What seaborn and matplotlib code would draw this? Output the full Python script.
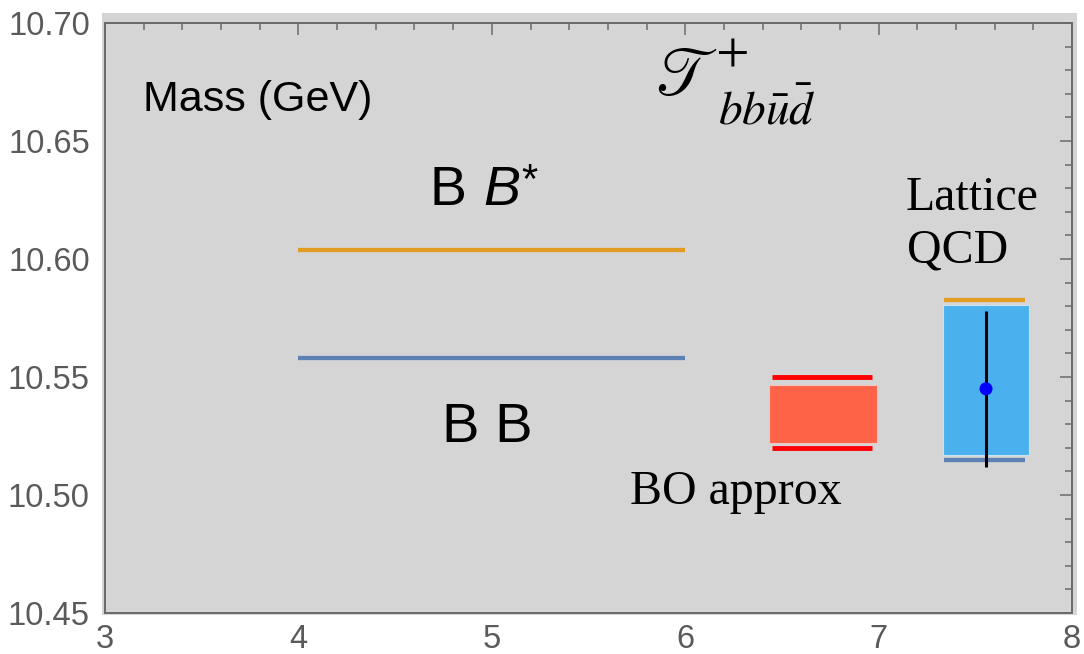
import matplotlib
matplotlib.use("Agg")
import matplotlib.pyplot as plt
import seaborn as sns
import pandas as pd
from matplotlib.patches import Rectangle
from matplotlib.ticker import MultipleLocator, FormatStrFormatter

# Two-meson thresholds (GeV), drawn between x = 4 and x = 6
threshold_names = ["B B", "B B*"]
threshold_mass = [10.558, 10.604]
threshold_x = [4.0, 6.0]

# Born-Oppenheimer estimate: band and its bounding lines
bo_band = [10.522, 10.5465]
bo_band_x = [6.435, 6.99]
bo_lines = [10.520, 10.550]
bo_lines_x = [6.45, 6.965]

# Lattice QCD: band, thresholds drawn on it, central value with error
lat_band = [10.517, 10.5805]
lat_band_x = [7.333, 7.778]
lat_lines = [10.5147, 10.5828]
lat_lines_x = [7.338, 7.757]
lat_x = [7.555]
lat_mass = [10.545]
lat_err = [0.033]

x_ticks = [3, 4, 5, 6, 7, 8]
y_ticks = [10.45, 10.50, 10.55, 10.60, 10.65, 10.70]

sns.set_theme(style="white")
plt.rcParams["font.family"] = ["Liberation Sans", "DejaVu Sans"]
plt.rcParams["mathtext.fontset"] = "stix"
plt.rcParams["text.color"] = "black"

ORANGE = "#E19C24"
BLUE = "#5E81B5"
RED = "#FF0000"
TOMATO = "#FF6347"
SKY = "#4AB1EE"
GRAY = "#6A6A6A"
PANEL = "#D5D5D5"
SERIF = ["Liberation Serif", "DejaVu Serif"]

fig = plt.figure(figsize=(10.84, 6.54), dpi=100)
# panel background slightly larger than the frame
fig.patches.append(Rectangle((0.0941, 0.0596), 0.8994, 0.9205,
                             transform=fig.transFigure, facecolor=PANEL,
                             edgecolor="none", zorder=-5))
ax = fig.add_axes([0.0969, 0.0627, 0.8921, 0.9021])
ax.set_zorder(1)
ax.set_facecolor(PANEL)

# threshold segments
thr = pd.DataFrame({
    "x": threshold_x * 2,
    "mass": [threshold_mass[0]] * 2 + [threshold_mass[1]] * 2,
    "state": [threshold_names[0]] * 2 + [threshold_names[1]] * 2,
})
sns.lineplot(data=thr, x="x", y="mass", hue="state",
             palette={threshold_names[0]: BLUE, threshold_names[1]: ORANGE},
             linewidth=3.1, legend=False, ax=ax)
for ln in ax.get_lines():
    ln.set_solid_capstyle("butt")

# BO band
ax.bar([(bo_band_x[0] + bo_band_x[1]) / 2], [bo_band[1] - bo_band[0]],
       width=bo_band_x[1] - bo_band_x[0], bottom=bo_band[0],
       color=TOMATO, edgecolor="#F2C6BE", linewidth=0.8, zorder=2)
for m in bo_lines:
    ax.plot(bo_lines_x, [m, m], color=RED, linewidth=3.5, zorder=3,
            solid_capstyle="butt")

# Lattice band
ax.bar([(lat_band_x[0] + lat_band_x[1]) / 2], [lat_band[1] - lat_band[0]],
       width=lat_band_x[1] - lat_band_x[0], bottom=lat_band[0],
       color=SKY, edgecolor="#C8E4F4", linewidth=0.8, zorder=2)
ax.plot(lat_lines_x, [lat_lines[1]] * 2, color=ORANGE, linewidth=3.1,
        zorder=3, solid_capstyle="butt")
ax.plot(lat_lines_x, [lat_lines[0]] * 2, color=BLUE, linewidth=3.1,
        zorder=3, solid_capstyle="butt")
ax.errorbar(lat_x, lat_mass, yerr=lat_err, fmt="none", ecolor="black",
            elinewidth=2.2, capsize=0, zorder=4)
sns.scatterplot(x=lat_x, y=lat_mass, color="#0000FF", s=88,
                edgecolor="none", zorder=5, ax=ax)

# frame, ticks
ax.set_xlim(3, 8)
ax.set_ylim(10.45, 10.70)
ax.set_xticks(x_ticks)
ax.set_yticks(y_ticks)
ax.yaxis.set_major_formatter(FormatStrFormatter("%.2f"))
ax.xaxis.set_minor_locator(MultipleLocator(0.2))
ax.yaxis.set_minor_locator(MultipleLocator(0.01))
ax.tick_params(which="both", direction="in", top=True, right=True,
               color=GRAY, width=1.1, labelcolor="#5A5A5A", labelsize=23.5,
               labeltop=False, labelright=False)
ax.tick_params(which="major", length=8.6)
ax.tick_params(which="minor", length=5)
ax.tick_params(axis="y", which="major", pad=11)
ax.tick_params(axis="x", which="major", pad=8)
for s in ax.spines.values():
    s.set_visible(True)
    s.set_color(GRAY)
    s.set_linewidth(1.4)
ax.set_xlabel("")
ax.set_ylabel("")

# annotations
ax.text(3.196, 10.6628, "Mass (GeV)", fontsize=31, va="baseline", ha="left")
ax.text(4.68, 10.6229, "B", fontsize=40, va="baseline", ha="left")
ax.text(4.954, 10.6229, "B", fontsize=40, va="baseline", ha="left",
        style="italic")
ax.text(5.151, 10.628, "*", fontsize=30, va="baseline", ha="left")
ax.text(4.74, 10.5225, "B B", fontsize=40.5, va="baseline", ha="left")
ax.text(7.137, 10.6208, "Lattice", fontsize=34.5, va="baseline",
        ha="left", family=SERIF)
ax.text(7.147, 10.5987, "QCD", fontsize=34.5, va="baseline",
        ha="left", family=SERIF)
ax.text(5.715, 10.4962, "BO approx", fontsize=34.5, va="baseline",
        ha="left", family=SERIF)

# state symbol
ax.text(5.844, 10.6695, r"$\mathscr{T}$", fontsize=48, va="baseline",
        ha="left")
ax.text(6.247, 10.685, "+", fontsize=43, va="center", ha="center",
        family=SERIF)
ax.text(6.170, 10.6572, r"$bb\bar{u}\bar{d}$", fontsize=34, va="baseline",
        ha="left")

fig.savefig("out.png", dpi=100)
